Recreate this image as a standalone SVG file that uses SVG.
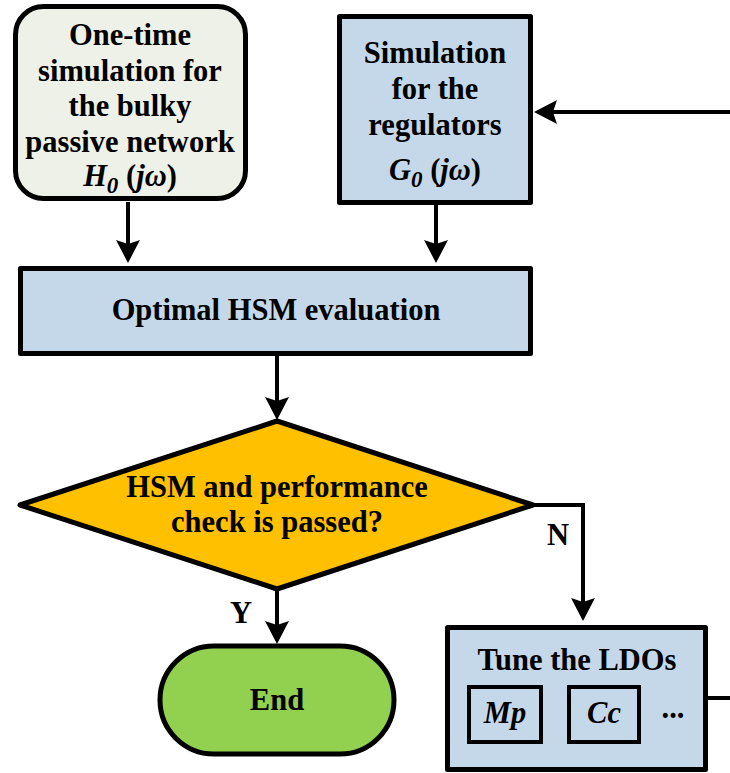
<svg xmlns="http://www.w3.org/2000/svg" width="730" height="773" viewBox="0 0 730 773">
<style>
.t{font-family:"Liberation Serif","Times New Roman",serif;font-weight:bold;font-size:30.5px;fill:#000;text-anchor:middle}
.i{font-style:italic}
.box{stroke:#000;stroke-width:5;stroke-linejoin:round}
.blue{fill:#C5D8E9}
.ln{fill:none;stroke:#000;stroke-width:4}
</style>
<defs>
<marker id="arr" viewBox="-2 -13 26 26" markerWidth="26" markerHeight="26" refX="10" refY="0" orient="auto" markerUnits="userSpaceOnUse">
<path d="M23,0 L0,-12 L4,0 L0,12 Z" fill="#000"/>
</marker>
</defs>
<rect width="730" height="773" fill="#fff"/>
<g id="connectors">
<path class="ln" d="M128,202 V250" marker-end="url(#arr)"/>
<path class="ln" d="M436,205 V250" marker-end="url(#arr)"/>
<path class="ln" d="M277,356 V407" marker-end="url(#arr)"/>
<path class="ln" d="M277,589 V631" marker-end="url(#arr)"/>
<path class="ln" d="M532,505 H583 V608" marker-end="url(#arr)"/>
<path class="ln" d="M708,698 H730"/>
<path class="ln" d="M730,112 H547" marker-end="url(#arr)"/>
<text class="t" x="241" y="623">Y</text>
<text class="t" x="558" y="545">N</text>
</g>
<g id="node-passive">
<rect class="box" x="15.5" y="6.5" width="230" height="192" rx="28" fill="#EEF1E7"/>
<text class="t" x="130" y="45">One-time</text>
<text class="t" x="130" y="81">simulation for</text>
<text class="t" x="130" y="116">the bulky</text>
<text class="t" x="130" y="152">passive network</text>
<text class="t" x="130" y="186"><tspan class="i">H</tspan><tspan class="i" font-size="23" dy="7">0</tspan><tspan dy="-7"> (</tspan><tspan class="i">jω</tspan>)</text>
</g>
<g id="node-regulators">
<rect class="box blue" x="339.5" y="16.5" width="191" height="186"/>
<text class="t" x="435" y="63">Simulation</text>
<text class="t" x="435" y="99">for the</text>
<text class="t" x="435" y="135">regulators</text>
<text class="t" x="435" y="180"><tspan class="i">G</tspan><tspan class="i" font-size="23" dy="7">0</tspan><tspan dy="-7"> (</tspan><tspan class="i">jω</tspan>)</text>
</g>
<g id="node-eval">
<rect class="box blue" x="20.5" y="268.5" width="510" height="85"/>
<text class="t" x="276" y="320">Optimal HSM evaluation</text>
</g>
<g id="node-check">
<polygon class="box" points="277,421 533,505 277,589 20,505" fill="#FFC000"/>
<text class="t" x="277" y="497">HSM and performance</text>
<text class="t" x="277" y="532">check is passed?</text>
</g>
<g id="node-end">
<rect class="box" x="160" y="646" width="234" height="108" rx="54" fill="#92D050"/>
<text class="t" x="277" y="710">End</text>
</g>
<g id="node-tune">
<rect class="box blue" x="447.5" y="627.5" width="258" height="142"/>
<text class="t" x="577" y="670">Tune the LDOs</text>
<rect class="blue" x="469" y="687" width="72" height="55" stroke="#000" stroke-width="4"/>
<text class="t i" x="505" y="723">Mp</text>
<rect class="blue" x="569" y="687" width="70" height="55" stroke="#000" stroke-width="4"/>
<text class="t i" x="604" y="723">Cc</text>
<text class="t" x="673" y="718">...</text>
</g>
</svg>
